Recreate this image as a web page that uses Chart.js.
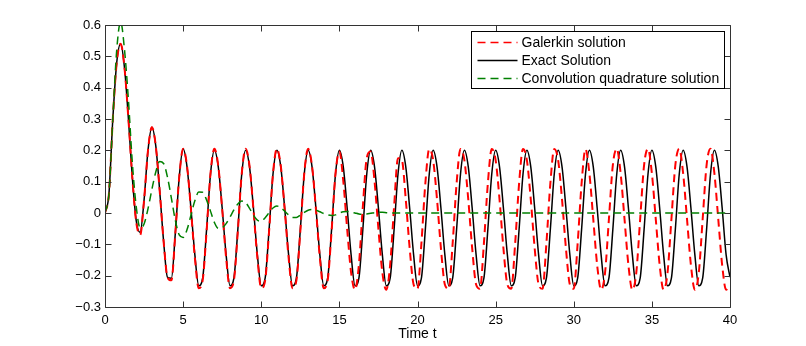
<!DOCTYPE html>
<html>
<head>
<meta charset="utf-8">
<script src="https://cdn.jsdelivr.net/npm/chart.js@4.4.1/dist/chart.umd.min.js"></script>
<style>
  html, body { margin: 0; padding: 0; background: #ffffff; }
  #wrap { width: 806px; height: 346px; }
</style>
</head>
<body>
<div id="wrap"><canvas id="c" width="806" height="346"></canvas></div>
<script>
// ---------- DATA ----------
const times = [
  0,0.25,0.5,0.75,1,1.25,1.5,1.75,2,2.25,2.5,2.75,3,3.25,3.5,3.75,4,4.25,4.5,4.75,
  5,5.25,5.5,5.75,6,6.25,6.5,6.75,7,7.25,7.5,7.75,8,8.25,8.5,8.75,9,9.25,9.5,9.75,
  10,10.25,10.5,10.75,11,11.25,11.5,11.75,12,12.25,12.5,12.75,13,13.25,13.5,13.75,14,14.25,14.5,14.75,
  15,15.25,15.5,15.75,16,16.25,16.5,16.75,17,17.25,17.5,17.75,18,18.25,18.5,18.75,19,19.25,19.5,19.75,
  20,20.25,20.5,20.75,21,21.25,21.5,21.75,22,22.25,22.5,22.75,23,23.25,23.5,23.75,24,24.25,24.5,24.75,
  25,25.25,25.5,25.75,26,26.25,26.5,26.75,27,27.25,27.5,27.75,28,28.25,28.5,28.75,29,29.25,29.5,29.75,
  30,30.25,30.5,30.75,31,31.25,31.5,31.75,32,32.25,32.5,32.75,33,33.25,33.5,33.75,34,34.25,34.5,34.75,
  35,35.25,35.5,35.75,36,36.25,36.5,36.75,37,37.25,37.5,37.75,38,38.25,38.5,38.75,39,39.25,39.5,39.75,
  40
];

const galerkin = [
  0,0.06,0.3,0.48,0.54,0.462,0.299,0.112,-0.03,-0.07,0.041,0.199,0.274,0.214,0.071,-0.09,-0.205,-0.215,-0.065,0.114,
  0.205,0.150,0.012,-0.142,-0.240,-0.215,-0.059,0.125,
  0.205,0.150,0.012,-0.142,-0.240,-0.215,-0.059,0.125,
  0.205,0.150,0.012,-0.142,-0.240,-0.215,-0.059,0.125,
  0.205,0.150,0.012,-0.142,-0.240,-0.215,-0.059,0.125,
  0.205,0.150,0.012,-0.142,-0.240,-0.215,-0.059,0.125,
  0.196,0.102,-0.052,-0.190,-0.245,-0.165,0.019,0.175,
  0.196,0.102,-0.052,-0.190,-0.245,-0.165,0.019,0.175,
  0.169,0.043,-0.113,-0.228,-0.242,-0.097,0.093,0.204,
  0.169,0.043,-0.113,-0.228,-0.242,-0.097,0.093,0.204,
  0.169,0.043,-0.113,-0.228,-0.242,-0.097,0.093,0.204,
  0.169,0.043,-0.113,-0.228,-0.242,-0.097,0.093,0.204,
  0.169,0.043,-0.113,-0.228,-0.242,-0.097,0.093,0.204,
  0.169,0.043,-0.113,-0.228,-0.242,-0.097,0.093,0.204,
  0.127,-0.020,-0.167,-0.245,-0.192,-0.020,0.152,0.205,
  0.127,-0.020,-0.167,-0.245,-0.192,-0.020,0.152,0.205,
  0.127,-0.020,-0.167,-0.245,-0.192,-0.020,0.152,0.205,
  0.127,-0.020,-0.167,-0.245,-0.192,-0.020,0.152,0.205,
  0.127,-0.020,-0.167,-0.245,-0.232
];

const exact = [
  0,0.06,0.3,0.48,0.54,0.462,0.299,0.112,-0.025,-0.062,0.041,0.199,0.274,0.214,0.071,-0.09,-0.205,-0.208,-0.065,0.114,
  0.205,0.147,0.015,-0.133,-0.232,-0.208,-0.054,0.123,
  0.2,0.147,0.015,-0.133,-0.232,-0.208,-0.054,0.123,
  0.2,0.147,0.015,-0.133,-0.232,-0.208,-0.054,0.123,
  0.2,0.147,0.015,-0.133,-0.232,-0.208,-0.054,0.123,
  0.2,0.147,0.015,-0.133,-0.232,-0.208,-0.054,0.123,
  0.2,0.147,0.015,-0.133,-0.232,-0.208,-0.054,0.123,
  0.2,0.147,0.015,-0.133,-0.232,-0.208,-0.054,0.123,
  0.2,0.147,0.015,-0.133,-0.232,-0.208,-0.054,0.123,
  0.2,0.147,0.015,-0.133,-0.232,-0.208,-0.054,0.123,
  0.2,0.147,0.015,-0.133,-0.232,-0.208,-0.054,0.123,
  0.2,0.147,0.015,-0.133,-0.232,-0.208,-0.054,0.123,
  0.2,0.147,0.015,-0.133,-0.232,-0.208,-0.054,0.123,
  0.2,0.147,0.015,-0.133,-0.232,-0.208,-0.054,0.123,
  0.2,0.147,0.015,-0.133,-0.232,-0.208,-0.054,0.123,
  0.2,0.147,0.015,-0.133,-0.232,-0.208,-0.054,0.123,
  0.2,0.147,0.015,-0.133,-0.232,-0.208,-0.054,0.123,
  0.2,0.147,0.015,-0.133,-0.232,-0.208,-0.054,0.123,
  0.2,0.147,0.015,-0.133,-0.205
];

const convolution = [
  0,0.06,0.3,0.52,0.61,0.52,0.36,0.16,0.02,-0.048,-0.035,0.013,0.075,0.131,0.164,0.158,0.114,0.047,-0.023,-0.07,
  -0.078,-0.053,-0.007,0.039,0.067,0.066,0.042,0.006,-0.03,-0.049,-0.047,-0.034,-0.013,0.01,0.029,0.038,0.033,0.015,-0.007,-0.023,
  -0.026,-0.015,0.001,0.016,0.022,0.017,0.006,-0.006,-0.014,-0.014,-0.007,0.002,0.009,0.011,0.009,0.004,-0.002,-0.006,-0.008,-0.006,
  0,0.004,0.005,0.003,0,-0.003,-0.004,-0.003,-0.001,0.001,0.002,0.002,0.001,0,0,0,0,0,0,0,
  0,0,0,0,0,0,0,0,0,0,0,0,0,0,0,0,0,0,0,0,
  0,0,0,0,0,0,0,0,0,0,0,0,0,0,0,0,0,0,0,0,
  0,0,0,0,0,0,0,0,0,0,0,0,0,0,0,0,0,0,0,0,
  0,0,0,0,0,0,0,0,0,0,0,0,0,0,0,0,0,0,0,0,
  0
];

const seriesLabels = ['Galerkin solution', 'Exact Solution', 'Convolution quadrature solution'];
const xTickValues = [0, 5, 10, 15, 20, 25, 30, 35, 40];
const xTickLabels = ['0', '5', '10', '15', '20', '25', '30', '35', '40'];
const yTickValues = [-0.3, -0.2, -0.1, 0, 0.1, 0.2, 0.3, 0.4, 0.5, 0.6];
const yTickLabels = ['\u22120.3', '\u22120.2', '\u22120.1', '0', '0.1', '0.2', '0.3', '0.4', '0.5', '0.6'];
const xTitle = 'Time t';

// ---------- CHART ----------
const FONT = "'Liberation Sans', Arial, Helvetica, sans-serif";
const toPts = (vals) => times.map((t, i) => ({ x: t, y: vals[i] }));

const framePlugin = {
  id: 'matlabFrame',
  afterDatasetsDraw(chart) {
    const { ctx, chartArea: a, scales } = chart;
    const L = Math.round(a.left) + 0.5, R = Math.round(a.right) + 0.5;
    const T = Math.round(a.top) + 0.5, B = Math.round(a.bottom) + 0.5;
    const tl = 6;
    ctx.save();
    ctx.strokeStyle = '#333333';
    ctx.lineWidth = 1;
    ctx.setLineDash([]);
    ctx.beginPath();
    ctx.rect(L, T, R - L, B - T);
    xTickValues.forEach(v => {
      const px = Math.round(scales.x.getPixelForValue(v)) + 0.5;
      ctx.moveTo(px, B); ctx.lineTo(px, B - tl);
      ctx.moveTo(px, T); ctx.lineTo(px, T + tl);
    });
    yTickValues.forEach(v => {
      const py = Math.round(scales.y.getPixelForValue(v)) + 0.5;
      ctx.moveTo(L, py); ctx.lineTo(L + tl, py);
      ctx.moveTo(R, py); ctx.lineTo(R - tl, py);
    });
    ctx.stroke();

    // legend box (MATLAB style, inside upper right)
    ctx.font = '14px ' + FONT;
    const ds = chart.data.datasets;
    const rowH = 18;
    const sampleLen = 40;
    const textOff = 50;
    let maxW = 0;
    ds.forEach(d => { maxW = Math.max(maxW, ctx.measureText(d.label).width); });
    const boxW = Math.round(textOff + maxW + 5);
    const boxH = Math.round(rowH * ds.length + 3);
    const bx = Math.round(a.right - 6 - boxW) + 0.5;
    const by = Math.round(a.top + 6) + 0.5;
    ctx.fillStyle = '#ffffff';
    ctx.fillRect(bx, by, boxW, boxH);
    ctx.strokeStyle = '#000000';
    ctx.lineWidth = 1;
    ctx.strokeRect(bx, by, boxW, boxH);
    ds.forEach((d, i) => {
      const cy = by + 11 + i * rowH;
      ctx.save();
      ctx.strokeStyle = d.borderColor;
      ctx.lineWidth = 1.5;
      ctx.setLineDash(d.borderDash || []);
      ctx.beginPath();
      ctx.moveTo(bx + 6, cy);
      ctx.lineTo(bx + 6 + sampleLen, cy);
      ctx.stroke();
      ctx.restore();
      ctx.fillStyle = '#000000';
      ctx.textBaseline = 'middle';
      ctx.textAlign = 'left';
      ctx.fillText(d.label, bx + textOff, cy + 0.5);
    });
    ctx.restore();
  }
};

new Chart(document.getElementById('c'), {
  type: 'line',
  data: {
    datasets: [
      { label: seriesLabels[0], data: toPts(galerkin), borderColor: '#ff0000', borderWidth: 2,
        borderDash: [8, 5], order: 1 },
      { label: seriesLabels[1], data: toPts(exact), borderColor: '#000000', borderWidth: 1.5,
        borderDash: [], order: 2 },
      { label: seriesLabels[2], data: toPts(convolution), borderColor: '#008000', borderWidth: 1.5,
        borderDash: [8, 5], order: 0 }
    ]
  },
  options: {
    responsive: false,
    animation: false,
    events: [],
    layout: { padding: { left: 0, right: 76, top: 25, bottom: 0 } },
    elements: {
      point: { radius: 0 },
      line: { cubicInterpolationMode: 'monotone', fill: false }
    },
    datasets: { line: { clip: 0, spanGaps: true } },
    plugins: { legend: { display: false }, tooltip: { enabled: false }, title: { display: false } },
    scales: {
      x: {
        type: 'linear', min: 0, max: 40,
        grid: { display: false, drawTicks: false },
        border: { display: false },
        afterBuildTicks: (s) => { s.ticks = xTickValues.map(v => ({ value: v })); },
        afterFit: (s) => { s.height = 39; },
        ticks: {
          autoSkip: false, maxRotation: 0, padding: 6, color: '#000000',
          font: { family: FONT, size: 13 },
          callback: (v, i) => xTickLabels[i]
        },
        title: { display: true, text: xTitle, color: '#000000',
          font: { family: FONT, size: 14 }, padding: { top: 0, bottom: 3 } }
      },
      y: {
        type: 'linear', min: -0.3, max: 0.6,
        grid: { display: false, drawTicks: false },
        border: { display: false },
        afterBuildTicks: (s) => { s.ticks = yTickValues.map(v => ({ value: v })); },
        afterFit: (s) => { s.width = 105; },
        ticks: {
          autoSkip: false, padding: 4, color: '#000000',
          font: { family: FONT, size: 13 },
          callback: (v, i) => yTickLabels[i]
        }
      }
    }
  },
  plugins: [framePlugin]
});
</script>
</body>
</html>
